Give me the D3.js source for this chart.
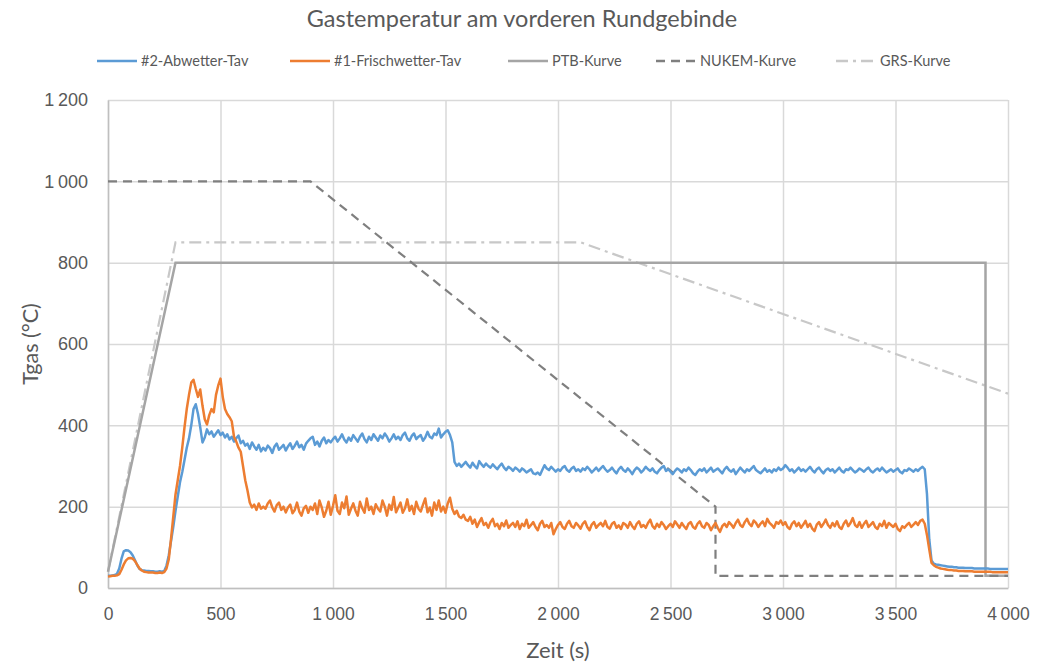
<!DOCTYPE html>
<html>
<head>
<meta charset="utf-8">
<script src="https://cdn.jsdelivr.net/npm/d3@7"></script>
<style>
  html, body { margin: 0; padding: 0; background: #fff; }
  svg { display: block; font-family: Lato, "Open Sans", sans-serif; }
</style>
</head>
<body>
<svg id="chart" width="1037" height="664"></svg>
<script>
// Measurement sampling grid (s)
const sampleStep = 10;

// #2-Abwetter-Tav (°C), one value every 10 s from 0 to 4000 s
const abwetter = [
  30, 30, 31, 32, 35, 48, 72, 90, 93, 92,
  88, 80, 68, 56, 47, 44, 43, 42, 42, 41,
  41, 40, 40, 41, 40, 42, 55, 80, 115, 150,
  190, 225, 260, 285, 315, 345, 368, 400, 440, 452,
  428, 395, 358, 370, 390, 378, 385, 372, 380, 388,
  376, 382, 370, 378, 365, 372, 360, 368, 375, 356,
  362, 350, 355, 342, 358, 348, 340, 352, 336, 345,
  338, 350, 344, 332, 348, 355, 340, 346, 352, 338,
  348, 356, 342, 350, 360, 346, 352, 340, 355, 362,
  368, 372, 352, 360, 348, 362, 370, 356, 364, 358,
  366, 372, 360, 368, 378, 365, 358, 370, 362, 376,
  368, 360, 372, 380, 366, 358, 372, 364, 378, 370,
  362, 375, 368, 380, 372, 360, 368, 378, 366, 372,
  364, 376, 382, 368, 362, 374, 380, 366, 372, 376,
  362, 370, 384, 372, 368, 380, 376, 392, 370, 378,
  384, 388, 376, 358, 310, 300, 306, 298, 304, 310,
  302, 296, 308, 300, 294, 312, 304, 298, 306, 300,
  296, 304, 298, 292, 300, 306, 296, 290, 298, 294,
  288, 296, 292, 286, 294, 290, 284, 288, 292, 282,
  280, 284, 278, 290, 302, 294, 290, 298, 292, 286,
  292, 288, 296, 300, 290, 286, 294, 298, 288, 292,
  286, 294, 290, 298, 292, 284, 290, 296, 288, 294,
  300, 292, 286, 290, 296, 288, 282, 292, 298, 290,
  286, 294, 288, 280, 290, 296, 292, 284, 290, 298,
  292, 288, 294, 286, 282, 290, 296, 300, 288, 292,
  286, 280, 288, 294, 290, 284, 292, 288, 296, 290,
  282, 278, 286, 292, 288, 294, 284, 290, 296, 286,
  290, 294, 288, 282, 292, 298, 290, 286, 292, 280,
  288, 296, 290, 284, 292, 288, 294, 300, 290, 286,
  282, 288, 294, 286, 290, 284, 292, 288, 296, 290,
  294, 302, 296, 288, 292, 284, 290, 296, 288, 292,
  286, 292, 298, 290, 284, 292, 296, 288, 282, 290,
  294, 288, 292, 284, 290, 296, 288, 284, 292, 290,
  296, 290, 284, 288, 294, 290, 286, 292, 296, 288,
  284, 290, 294, 288, 296, 290, 284, 288, 292, 286,
  290, 294, 286, 282, 290, 288, 294, 290, 286, 292,
  288, 294, 298, 292, 230, 120, 68, 60, 58, 57,
  56, 55, 54, 53, 52, 52, 51, 51, 50, 50,
  50, 49, 49, 49, 49, 48, 48, 48, 48, 48,
  48, 48, 47, 47, 47, 47, 47, 47, 47, 47,
  47
];

// #1-Frischwetter-Tav (°C), same sampling grid
const frischwetter = [
  28, 29, 30, 30, 31, 34, 45, 58, 68, 73,
  74, 72, 66, 57, 48, 43, 40, 39, 38, 38,
  38, 37, 37, 38, 37, 39, 48, 70, 120, 175,
  230, 265, 300, 345, 395, 440, 475, 505, 512, 490,
  470, 488, 448, 415, 402, 425, 440, 432, 475, 498,
  515, 470, 440, 428, 420, 410, 372, 360, 345, 335,
  300, 265, 240, 210, 198, 205, 192, 208, 195, 200,
  195, 208, 215, 198, 188, 204, 210, 192, 200, 186,
  198, 205, 184, 192, 210, 188, 178, 196, 202, 185,
  200, 192, 208, 182, 215, 198, 175, 190, 212, 180,
  202, 228, 190, 182, 210, 196, 225, 180, 195, 208,
  190, 178, 212, 196, 185, 220, 192, 200, 182, 206,
  195, 188, 215, 200, 178, 205, 192, 224, 186, 198,
  210, 185, 196, 218, 190, 202, 182, 212, 195, 188,
  205, 220, 186, 198, 178, 210, 192, 215, 188, 200,
  185, 208, 222, 195, 182, 190, 176, 172, 180, 168,
  165, 175, 158, 168, 150, 162, 172, 155, 160, 148,
  162, 170, 152, 158, 145, 160, 152, 166, 148, 155,
  160, 150, 164, 145, 158, 152, 168, 148, 155, 162,
  150, 142, 158, 165, 150, 155, 148, 160, 132, 145,
  155, 162, 150, 145, 158, 165, 152, 148, 160, 154,
  146, 158, 164, 150, 142, 156, 162, 148, 155, 160,
  152, 165, 150, 146, 158, 162, 148, 154, 145, 160,
  156, 148, 162, 152, 145, 158, 164, 150, 155, 148,
  160, 168, 152, 146, 158, 150, 162, 155, 145, 152,
  158, 150, 164, 156, 148, 160, 152, 145, 158, 162,
  150, 146, 158, 164, 152, 148, 160, 155, 142, 152,
  160, 148, 138, 152, 158, 150, 162, 156, 148, 160,
  168, 155, 150, 162, 170, 158, 152, 166, 160, 150,
  158, 164, 152, 170, 160, 155, 148, 162, 158, 166,
  155, 162, 150, 145, 158, 164, 152, 160, 148, 156,
  165, 150, 158, 146, 140, 156, 162, 150, 158, 168,
  155, 148, 160, 152, 164, 150, 145, 158, 166, 152,
  160, 172, 155, 150, 162, 148, 158, 165, 150, 156,
  162, 150, 145, 158, 152, 165, 148, 160, 155, 150,
  158, 145, 140, 152, 148, 155, 160, 150, 156, 162,
  155, 165, 168, 158, 130, 95, 62, 56, 52, 50,
  48, 47, 46, 45, 44, 44, 43, 43, 42, 42,
  42, 41, 41, 41, 41, 40, 40, 40, 40, 40,
  40, 40, 40, 39, 39, 39, 39, 39, 39, 39,
  39
];

// Reference fire curves: breakpoints (time s, temperature °C)
const ptbTimes   = [0, 300, 3900, 3900, 4000];
const ptbValues  = [40, 800, 800, 30, 30];
const nukemTimes  = [0, 900, 2700, 2700, 4000];
const nukemValues = [1000, 1000, 200, 30, 30];
const grsTimes   = [0, 300, 2100, 4000];
const grsValues  = [40, 850, 850, 478];

// Axis ticks
const xTicks = [0, 500, 1000, 1500, 2000, 2500, 3000, 3500, 4000];
const yTicks = [0, 200, 400, 600, 800, 1000, 1200];

const seriesNames = ["#2-Abwetter-Tav", "#1-Frischwetter-Tav", "PTB-Kurve", "NUKEM-Kurve", "GRS-Kurve"];

const colors = {
  blue: "#5B9BD5",
  orange: "#ED7D31",
  ptb: "#A5A5A5",
  nukem: "#7F7F7F",
  grs: "#C8C8C8",
  text: "#595959",
  grid: "#D9D9D9",
  axis: "#BFBFBF"
};

const svg = d3.select("#chart");
const margin = { left: 108, right: 29, top: 100, bottom: 76 };
const W = 1037, H = 664;

const x = d3.scaleLinear().domain([0, 4000]).range([margin.left, W - margin.right]);
const y = d3.scaleLinear().domain([0, 1200]).range([H - margin.bottom, margin.top]);

const locale = d3.formatLocale({ decimal: ",", thousands: "\u2009", grouping: [3], currency: ["", " €"] });
const fmt = locale.format(",d");

// Gridlines
const gridY = svg.append("g")
  .attr("transform", `translate(${margin.left},0)`)
  .call(d3.axisLeft(y).tickValues(yTicks).tickSize(-(W - margin.left - margin.right)).tickFormat(""));
gridY.select(".domain").remove();
gridY.selectAll("line").attr("stroke", colors.grid).attr("stroke-width", 1.5);

const gridX = svg.append("g")
  .attr("transform", `translate(0,${H - margin.bottom})`)
  .call(d3.axisBottom(x).tickValues(xTicks).tickSize(-(H - margin.top - margin.bottom)).tickFormat(""));
gridX.select(".domain").remove();
gridX.selectAll("line").attr("stroke", colors.grid).attr("stroke-width", 1.5);

// Axes with labels
const axisL = svg.append("g")
  .attr("transform", `translate(${margin.left},0)`)
  .call(d3.axisLeft(y).tickValues(yTicks).tickSize(0).tickPadding(20).tickFormat(fmt));
axisL.select(".domain").attr("stroke", colors.axis).attr("stroke-width", 1.5);
axisL.selectAll("text").attr("fill", colors.text).style("font-size", "18px");

const axisB = svg.append("g")
  .attr("transform", `translate(0,${H - margin.bottom})`)
  .call(d3.axisBottom(x).tickValues(xTicks).tickSize(0).tickPadding(20).tickFormat(fmt));
axisB.select(".domain").attr("stroke", colors.axis).attr("stroke-width", 1.5);
axisB.selectAll("text").attr("fill", colors.text).style("font-size", "17.5px");

// Line generators
const lineXY = d3.line().x(d => x(d[0])).y(d => y(d[1]));
const sampled = arr => arr.map((v, i) => [i * sampleStep, v]);
const zipped = (ts, vs) => ts.map((t, i) => [t, vs[i]]);

const plot = svg.append("g");

plot.append("path").datum(zipped(grsTimes, grsValues))
  .attr("d", lineXY).attr("fill", "none")
  .attr("stroke", colors.grs).attr("stroke-width", 2.2)
  .attr("stroke-dasharray", "12,5,3,5");

plot.append("path").datum(zipped(ptbTimes, ptbValues))
  .attr("d", lineXY).attr("fill", "none")
  .attr("stroke", colors.ptb).attr("stroke-width", 2.5);

plot.append("path").datum(zipped(nukemTimes, nukemValues))
  .attr("d", lineXY).attr("fill", "none")
  .attr("stroke", colors.nukem).attr("stroke-width", 2.2)
  .attr("stroke-dasharray", "9,6");

plot.append("path").datum(sampled(abwetter))
  .attr("d", lineXY).attr("fill", "none")
  .attr("stroke", colors.blue).attr("stroke-width", 2.5)
  .attr("stroke-linejoin", "round");

plot.append("path").datum(sampled(frischwetter))
  .attr("d", lineXY).attr("fill", "none")
  .attr("stroke", colors.orange).attr("stroke-width", 2.5)
  .attr("stroke-linejoin", "round");

// Title
svg.append("text")
  .attr("x", 522).attr("y", 27)
  .attr("text-anchor", "middle")
  .attr("fill", colors.text)
  .style("font-size", "23.5px")
  .text("Gastemperatur am vorderen Rundgebinde");

// Axis titles
svg.append("text")
  .attr("transform", "translate(38,344) rotate(-90)")
  .attr("text-anchor", "middle")
  .attr("fill", colors.text)
  .style("font-size", "21.5px")
  .text("Tgas (°C)");

svg.append("text")
  .attr("x", 558).attr("y", 658)
  .attr("text-anchor", "middle")
  .attr("fill", colors.text)
  .style("font-size", "22px")
  .text("Zeit (s)");

// Legend
const legendItems = [
  { name: seriesNames[0], x: 97, color: colors.blue, dash: null },
  { name: seriesNames[1], x: 290, color: colors.orange, dash: null },
  { name: seriesNames[2], x: 508, color: colors.ptb, dash: null },
  { name: seriesNames[3], x: 656, color: colors.nukem, dash: "9,6" },
  { name: seriesNames[4], x: 836, color: colors.grs, dash: "12,5,3,5" }
];
const legend = svg.append("g");
legendItems.forEach(it => {
  legend.append("line")
    .attr("x1", it.x).attr("x2", it.x + 40)
    .attr("y1", 61).attr("y2", 61)
    .attr("stroke", it.color).attr("stroke-width", 2.5)
    .attr("stroke-dasharray", it.dash);
  legend.append("text")
    .attr("x", it.x + 44).attr("y", 66)
    .attr("fill", colors.text)
    .style("font-size", "14.5px")
    .text(it.name);
});
</script>
</body>
</html>
